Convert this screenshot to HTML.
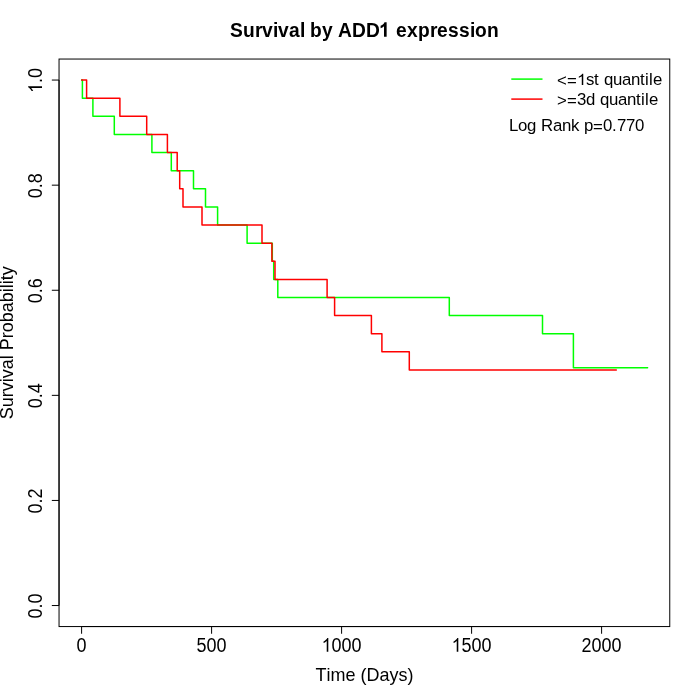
<!DOCTYPE html>
<html><head><meta charset="utf-8"><style>
html,body{margin:0;padding:0;background:#fff;width:700px;height:700px;overflow:hidden}
svg{display:block;will-change:transform}
text{font-family:"Liberation Sans",sans-serif;fill:#000;white-space:pre} path.g1{fill:#000}
</style></head><body>
<svg width="700" height="700" viewBox="0 0 700 700">
<rect width="700" height="700" fill="#fff"/>
<rect x="59.04" y="59.04" width="610.72" height="567.52" fill="none" stroke="#000" stroke-width="1"/>
<line x1="59.04" y1="605.54" x2="59.04" y2="80.06" stroke="#000" stroke-width="1"/>
<line x1="59.04" y1="605.54" x2="51.84" y2="605.54" stroke="#000" stroke-width="1"/>
<line x1="59.04" y1="500.44" x2="51.84" y2="500.44" stroke="#000" stroke-width="1"/>
<line x1="59.04" y1="395.35" x2="51.84" y2="395.35" stroke="#000" stroke-width="1"/>
<line x1="59.04" y1="290.25" x2="51.84" y2="290.25" stroke="#000" stroke-width="1"/>
<line x1="59.04" y1="185.16" x2="51.84" y2="185.16" stroke="#000" stroke-width="1"/>
<line x1="59.04" y1="80.06" x2="51.84" y2="80.06" stroke="#000" stroke-width="1"/>
<line x1="81.60" y1="626.56" x2="601.60" y2="626.56" stroke="#000" stroke-width="1"/>
<line x1="81.60" y1="626.56" x2="81.60" y2="633.76" stroke="#000" stroke-width="1"/>
<line x1="211.60" y1="626.56" x2="211.60" y2="633.76" stroke="#000" stroke-width="1"/>
<line x1="341.60" y1="626.56" x2="341.60" y2="633.76" stroke="#000" stroke-width="1"/>
<line x1="471.60" y1="626.56" x2="471.60" y2="633.76" stroke="#000" stroke-width="1"/>
<line x1="601.60" y1="626.56" x2="601.60" y2="633.76" stroke="#000" stroke-width="1"/>
<path d="M81.65,80.06 H82.40 V98.18 H92.90 V116.30 H114.30 V134.42 H151.90 V152.54 H171.30 V170.66 H193.50 V188.78 H205.50 V206.90 H217.60 V225.02 H247.10 V243.14 H272.30 V261.26 H273.70 V279.38 H277.80 V297.50 H449.30 V315.62 H542.50 V333.74 H573.40 V367.80 H647.60" fill="none" stroke="#00ff00" stroke-width="1.5" stroke-linejoin="round" stroke-linecap="round"/>
<path d="M81.65,80.06 H86.60 V98.18 H119.90 V116.30 H146.70 V134.42 H167.40 V152.54 H177.20 V170.66 H179.70 V188.78 H183.00 V206.90 H202.00 V225.02 H262.00 V243.14 H271.90 V261.26 H275.00 V279.38 H327.10 V297.50 H334.60 V315.62 H371.40 V333.74 H381.90 V351.86 H409.30 V369.98 H616.30" fill="none" stroke="#ff0000" stroke-width="1.5" stroke-linejoin="round" stroke-linecap="round"/>
<g transform="translate(0,36.70) scale(1,1.1)"><text x="229.90 242.90 254.90 261.90 272.90 277.90 288.90 299.90 304.90 309.90 321.90 332.90 337.90 351.90 365.90" y="0.00" font-size="19.2" font-weight="bold">Survival by ADD</text><path d="M719 0H438V1059Q284 915 75 846V1101Q185 1137 314 1237T491 1472H719Z" transform="translate(379.90,0) scale(0.00937,-0.00897)"/><text x="390.90 395.90 406.90 417.90 429.90 436.90 447.90 458.90 469.90 474.90 486.90" y="0.00" font-size="19.2" font-weight="bold"> expression</text></g>
<g transform="translate(0,651.80) scale(1,1.12)"><text x="76.60" y="0.00" font-size="18" font-weight="normal">0</text></g>
<g transform="translate(0,651.80) scale(1,1.12)"><text x="196.60 206.60 216.60" y="0.00" font-size="18" font-weight="normal">500</text></g>
<g transform="translate(0,651.80) scale(1,1.12)"><path d="M763 0H583V1147Q518 1085 412.5 1023T223 930V1104Q374 1175 487 1276T647 1472H763Z" transform="translate(321.60,0) scale(0.00879,-0.00841)"/><text x="331.60 341.60 351.60" y="0.00" font-size="18" font-weight="normal">000</text></g>
<g transform="translate(0,651.80) scale(1,1.12)"><path d="M763 0H583V1147Q518 1085 412.5 1023T223 930V1104Q374 1175 487 1276T647 1472H763Z" transform="translate(451.60,0) scale(0.00879,-0.00841)"/><text x="461.60 471.60 481.60" y="0.00" font-size="18" font-weight="normal">500</text></g>
<g transform="translate(0,651.80) scale(1,1.12)"><text x="581.60 591.60 601.60 611.60" y="0.00" font-size="18" font-weight="normal">2000</text></g>
<g transform="translate(42.00,606.04) rotate(-90) scale(1,1.12)"><text x="-12.50 -2.50 2.50" y="0.00" font-size="18" font-weight="normal">0.0</text></g>
<g transform="translate(42.00,500.94) rotate(-90) scale(1,1.12)"><text x="-12.50 -2.50 2.50" y="0.00" font-size="18" font-weight="normal">0.2</text></g>
<g transform="translate(42.00,395.85) rotate(-90) scale(1,1.12)"><text x="-12.50 -2.50 2.50" y="0.00" font-size="18" font-weight="normal">0.4</text></g>
<g transform="translate(42.00,290.75) rotate(-90) scale(1,1.12)"><text x="-12.50 -2.50 2.50" y="0.00" font-size="18" font-weight="normal">0.6</text></g>
<g transform="translate(42.00,185.66) rotate(-90) scale(1,1.12)"><text x="-12.50 -2.50 2.50" y="0.00" font-size="18" font-weight="normal">0.8</text></g>
<g transform="translate(42.00,80.56) rotate(-90) scale(1,1.12)"><path d="M763 0H583V1147Q518 1085 412.5 1023T223 930V1104Q374 1175 487 1276T647 1472H763Z" transform="translate(-12.50,0) scale(0.00879,-0.00841)"/><text x="-2.50 2.50" y="0.00" font-size="18" font-weight="normal">.0</text></g>
<g transform="translate(0,680.70) scale(1,1.04)"><text x="315.40 326.40 330.40 345.40 355.40 360.40 366.40 379.40 389.40 398.40 407.40" y="0.00" font-size="18" font-weight="normal">Time (Days)</text></g>
<g transform="translate(13.20,342.80) rotate(-90) scale(1,1.04)"><text x="-76.50 -64.50 -54.50 -48.50 -39.50 -35.50 -26.50 -16.50 -12.50 -7.50 4.50 10.50 20.50 30.50 40.50 50.50 54.50 58.50 62.50 67.50" y="0.00" font-size="18" font-weight="normal">Survival Probability</text></g>
<line x1="511.3" y1="79.1" x2="542.5" y2="79.1" stroke="#00ff00" stroke-width="1.5"/>
<line x1="511.3" y1="99.1" x2="542.5" y2="99.1" stroke="#ff0000" stroke-width="1.5"/>
<g transform="translate(0,84.90) scale(1,0.97)"><text x="557.00" y="1.00" font-size="16.8" font-weight="normal">&lt;</text><text x="567.00" y="1.40" font-size="16.8" font-weight="normal">=</text><path d="M763 0H583V1147Q518 1085 412.5 1023T223 930V1104Q374 1175 487 1276T647 1472H763Z" transform="translate(577.00,0) scale(0.00820,-0.00785)"/><text x="586.00 594.00 599.00 604.00 613.00 622.00 631.00 640.00 645.00 649.00 653.00" y="0.00" font-size="16.8" font-weight="normal">st quantile</text></g>
<g transform="translate(0,104.80) scale(1,0.97)"><text x="557.00" y="1.00" font-size="16.8" font-weight="normal">&gt;</text><text x="567.00" y="1.40" font-size="16.8" font-weight="normal">=</text><text x="577.00 586.00 595.00 600.00 609.00 618.00 627.00 636.00 641.00 645.00 649.00" y="0.00" font-size="16.8" font-weight="normal">3d quantile</text></g>
<g transform="translate(0,130.90) scale(1,0.97)"><text x="509.00 518.00 527.00 536.00 541.00 553.00 562.00 571.00 579.00 584.00" y="0.00" font-size="16.8" font-weight="normal">Log Rank p</text><text x="593.00" y="1.40" font-size="16.8" font-weight="normal">=</text><text x="603.00 612.00 617.00 626.00 635.00" y="0.00" font-size="16.8" font-weight="normal">0.770</text></g>
</svg>
</body></html>
